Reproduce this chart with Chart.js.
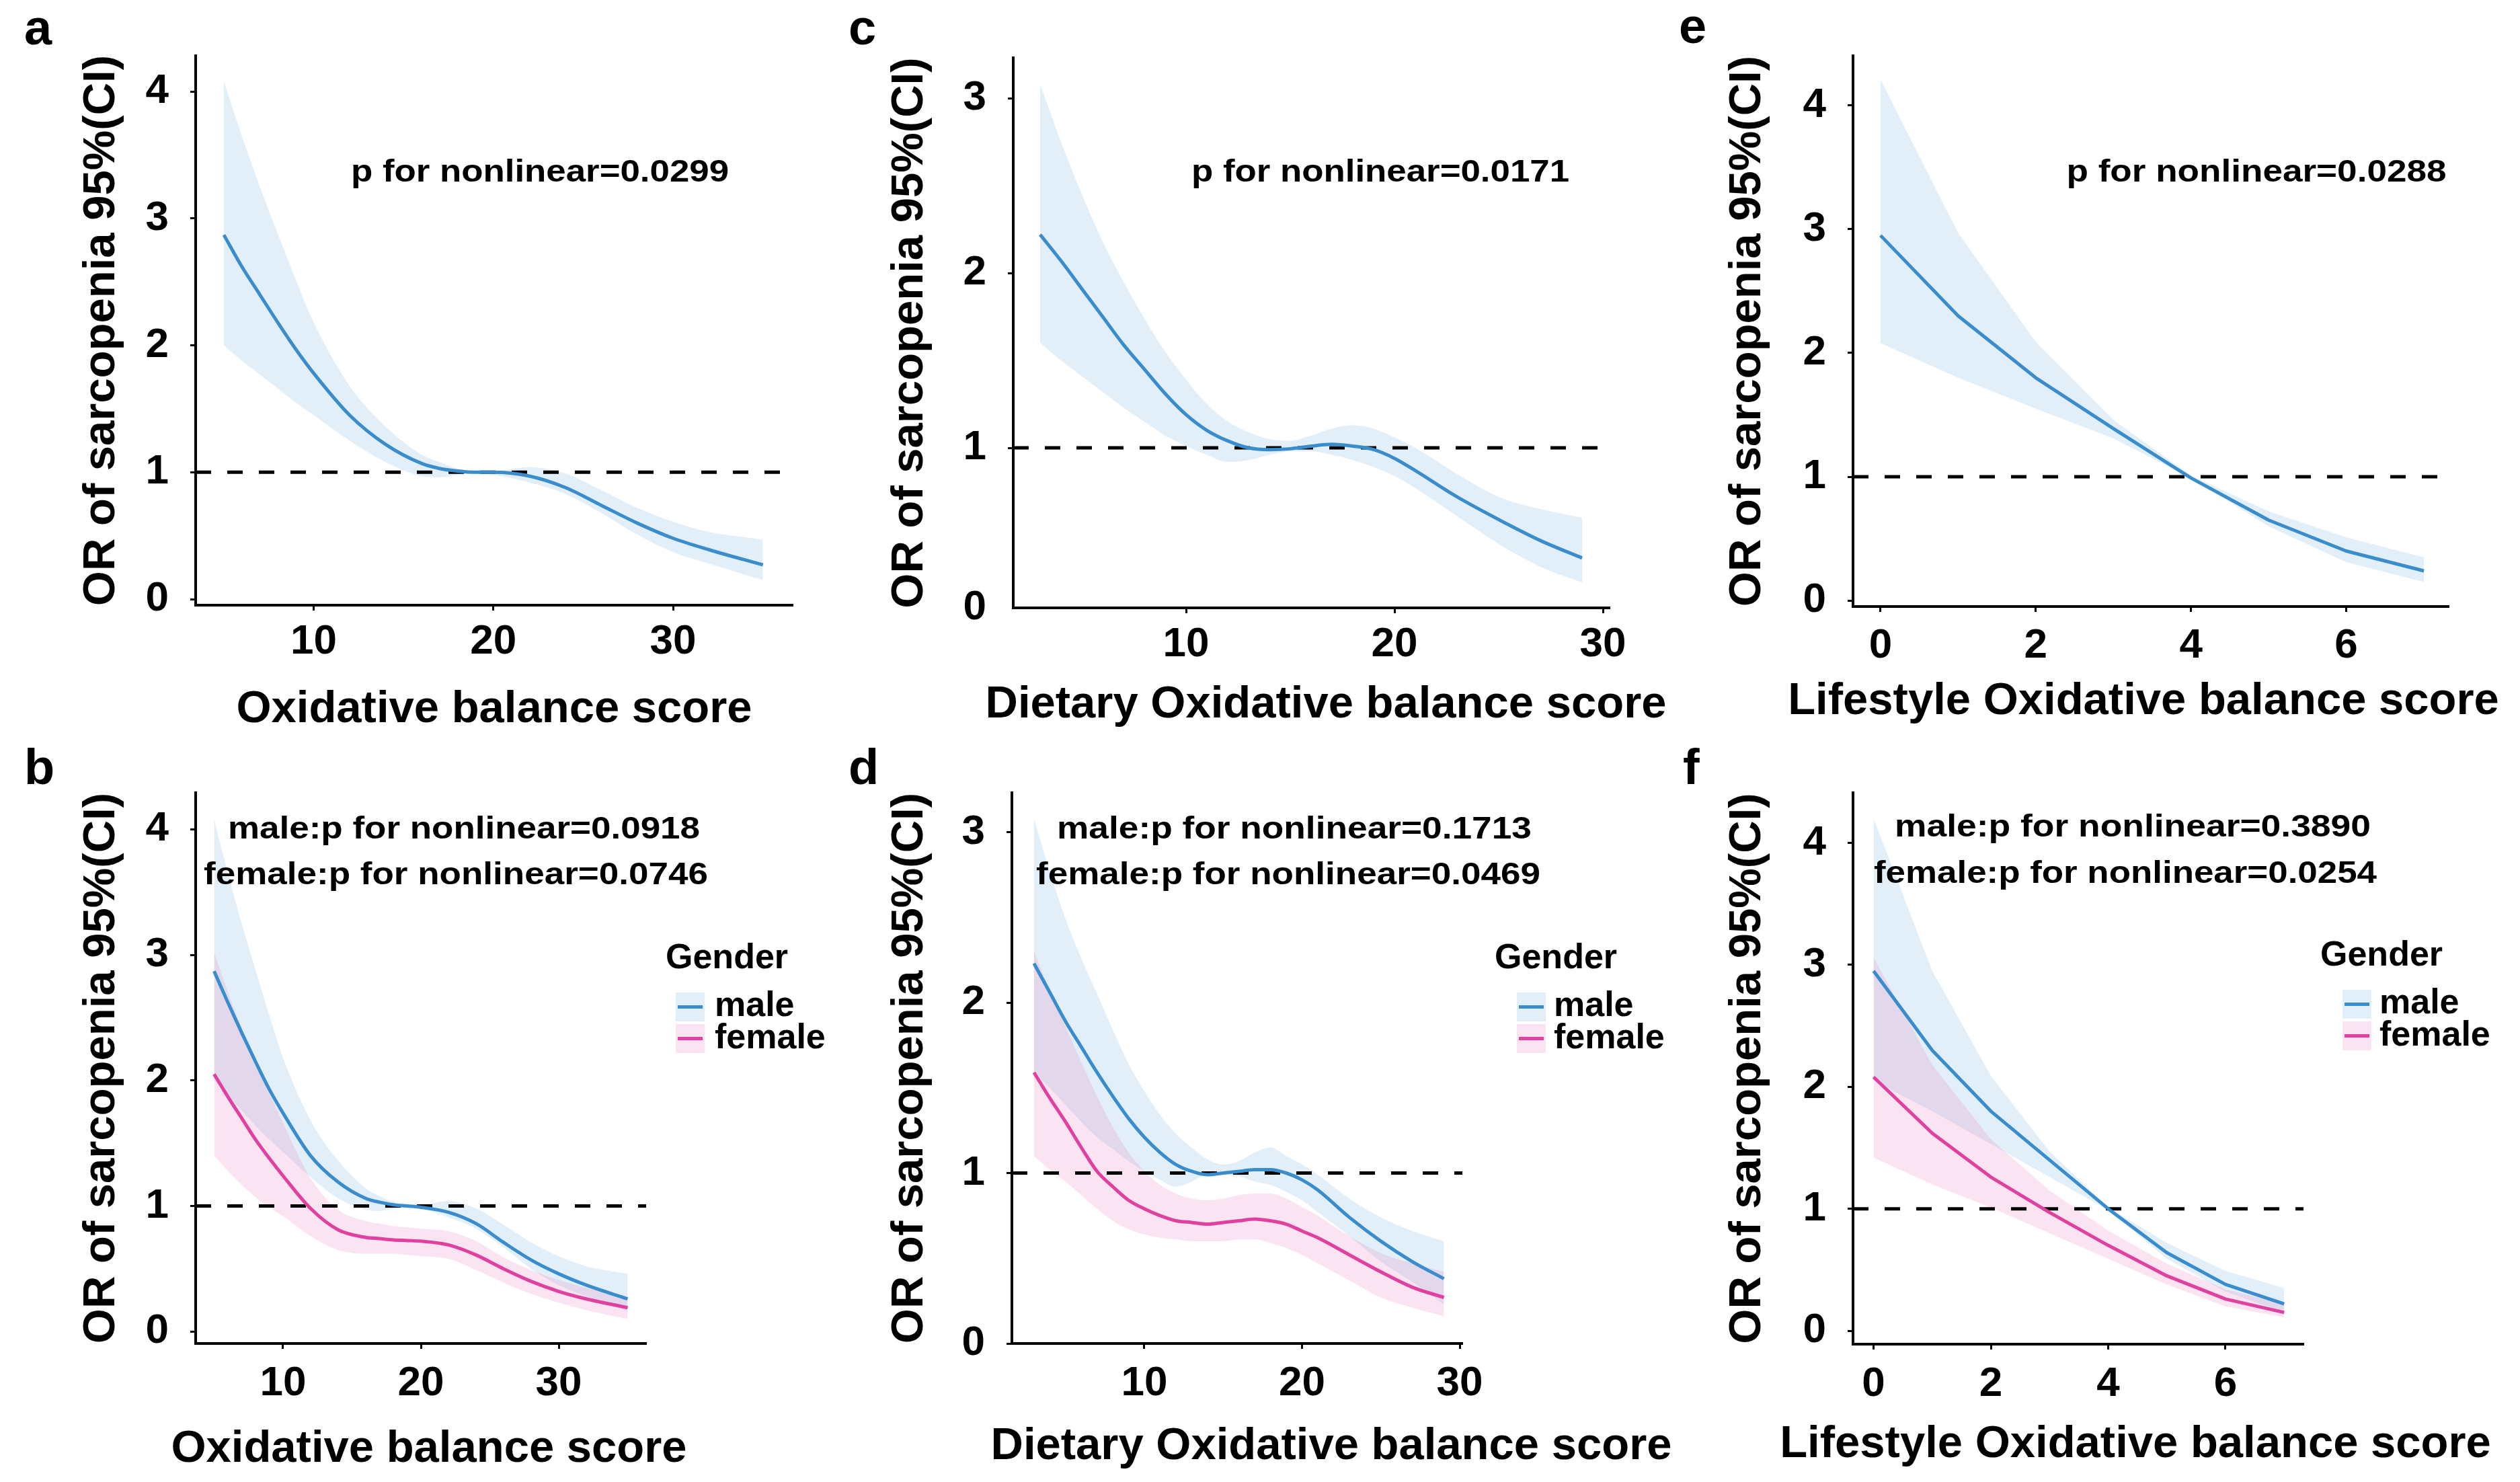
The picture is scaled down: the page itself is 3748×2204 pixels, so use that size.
<!DOCTYPE html>
<html><head><meta charset="utf-8">
<script src="https://cdn.jsdelivr.net/npm/chart.js@4.4.1/dist/chart.umd.min.js"></script>
<style>
html,body{margin:0;padding:0;background:#fff;}
body{width:3748px;height:2204px;position:relative;overflow:hidden;font-family:'Liberation Sans',Arial,sans-serif;}
canvas{position:absolute;}
.t{position:absolute;white-space:nowrap;color:#000;font-weight:bold;line-height:1;font-family:'Liberation Sans',Arial,sans-serif;transform-origin:50% 50%;}
.key{position:absolute;width:43px;height:43px;}
.key i{position:absolute;left:3px;top:19px;width:37px;height:5px;}
</style></head><body>
<script>
// ---------------- DATA ----------------
const xTicksScore = [10, 20, 30];
const xTicksLife = [0, 2, 4, 6];
const yTicks4 = [0, 1, 2, 3, 4];
const yTicks3 = [0, 1, 2, 3];

// panel a : overall, Oxidative balance score
const xA = [5,6,7,8,9,10,12,14,16,17,18,19,20,22,24,26,28,30,32,35];
const aMid = [2.87,2.62,2.40,2.18,1.97,1.78,1.45,1.22,1.07,1.03,1.01,1.00,1.00,0.97,0.88,0.74,0.60,0.48,0.39,0.27];
const aUp  = [4.08,3.65,3.25,2.88,2.52,2.18,1.68,1.36,1.14,1.08,1.03,1.01,1.01,1.04,0.99,0.86,0.72,0.61,0.53,0.47];
const aLo  = [2.00,1.88,1.77,1.66,1.55,1.45,1.25,1.08,0.97,0.96,0.98,0.99,0.98,0.92,0.83,0.68,0.51,0.37,0.28,0.15];

// panel b : by gender, Oxidative balance score
const xB = [5,6,7,8,9,10,12,14,16,17,18,19,20,22,24,26,28,30,32,35];
const bMaleMid = [2.87,2.62,2.38,2.15,1.93,1.74,1.40,1.19,1.06,1.03,1.01,1.00,0.99,0.95,0.86,0.71,0.57,0.46,0.37,0.26];
const bMaleUp  = [4.08,3.65,3.25,2.88,2.52,2.18,1.68,1.36,1.14,1.08,1.03,1.01,1.01,1.04,0.98,0.85,0.71,0.60,0.52,0.46];
const bMaleLo  = [2.00,1.88,1.76,1.64,1.53,1.43,1.23,1.06,0.97,0.96,0.98,0.99,0.98,0.91,0.82,0.67,0.50,0.37,0.28,0.16];
const bFemMid  = [2.05,1.87,1.70,1.53,1.38,1.24,0.98,0.81,0.75,0.74,0.73,0.725,0.72,0.69,0.61,0.50,0.40,0.32,0.26,0.19];
const bFemUp   = [3.02,2.70,2.42,2.15,1.90,1.66,1.22,0.97,0.88,0.86,0.84,0.83,0.82,0.80,0.72,0.59,0.49,0.41,0.35,0.28];
const bFemLo   = [1.40,1.28,1.17,1.07,0.99,0.92,0.76,0.65,0.62,0.62,0.62,0.61,0.60,0.58,0.49,0.39,0.30,0.23,0.17,0.10];

// panel c : overall, Dietary OBS
const xC = [3,4,5,6,7,8,9,10,11,12,13,14,15,16,17,18,19,20,21,23,25,27,29];
const cMid = [2.22,2.07,1.91,1.75,1.59,1.45,1.31,1.19,1.10,1.04,1.00,0.99,0.995,1.01,1.02,1.01,0.99,0.94,0.87,0.72,0.59,0.47,0.37];
const cUp  = [3.08,2.75,2.45,2.18,1.95,1.74,1.55,1.39,1.25,1.15,1.09,1.05,1.04,1.07,1.11,1.13,1.11,1.06,1.00,0.85,0.72,0.65,0.60];
const cLo  = [1.60,1.50,1.41,1.32,1.23,1.15,1.07,1.01,0.96,0.92,0.93,0.96,0.98,0.98,0.96,0.93,0.89,0.84,0.77,0.61,0.45,0.32,0.23];

// panel d : by gender, Dietary OBS
const xD = [3,4,5,6,7,8,9,10,11,12,13,14,15,16,17,18,19,20,21,23,25,27,29];
const dMaleMid = [2.23,2.06,1.89,1.74,1.59,1.45,1.32,1.21,1.12,1.05,1.01,0.99,1.00,1.01,1.02,1.02,1.00,0.96,0.90,0.74,0.60,0.48,0.38];
const dMaleUp  = [3.08,2.77,2.49,2.26,2.05,1.84,1.64,1.48,1.34,1.23,1.15,1.08,1.05,1.07,1.12,1.15,1.10,1.05,0.99,0.85,0.74,0.66,0.60];
const dMaleLo  = [1.59,1.50,1.40,1.30,1.21,1.14,1.07,1.01,0.96,0.92,0.95,0.99,0.99,0.98,0.95,0.93,0.89,0.84,0.77,0.63,0.48,0.36,0.23];
const dFemMid  = [1.59,1.44,1.30,1.15,1.01,0.92,0.84,0.79,0.75,0.72,0.71,0.70,0.71,0.72,0.73,0.72,0.70,0.66,0.62,0.52,0.42,0.33,0.27];
const dFemUp   = [2.30,2.07,1.86,1.65,1.45,1.27,1.12,1.01,0.93,0.88,0.85,0.84,0.85,0.87,0.88,0.88,0.85,0.80,0.75,0.63,0.53,0.47,0.42];
const dFemLo   = [1.10,1.02,0.95,0.87,0.79,0.72,0.67,0.64,0.62,0.61,0.60,0.60,0.60,0.61,0.61,0.59,0.56,0.52,0.47,0.37,0.27,0.21,0.16];

// panel e : overall, Lifestyle OBS
const xE = [0,1,2,3,4,5,6,7];
const eMid = [2.95,2.30,1.80,1.39,0.99,0.65,0.40,0.24];
const eUp  = [4.21,2.97,2.09,1.46,1.01,0.72,0.51,0.35];
const eLo  = [2.08,1.80,1.55,1.31,0.99,0.60,0.31,0.15];

// panel f : by gender, Lifestyle OBS
const xF = [0,1,2,3,4,5,6,7];
const fMaleMid = [2.95,2.30,1.80,1.40,1.00,0.64,0.38,0.22];
const fMaleUp  = [4.20,2.95,2.09,1.47,1.01,0.72,0.49,0.35];
const fMaleLo  = [2.05,1.80,1.53,1.26,0.99,0.59,0.32,0.15];
const fFemMid  = [2.08,1.62,1.26,0.97,0.70,0.45,0.26,0.15];
const fFemUp   = [3.06,2.18,1.57,1.15,0.82,0.55,0.34,0.22];
const fFemLo   = [1.42,1.20,1.01,0.80,0.59,0.38,0.20,0.11];

const refOR = 1;

// texts
const yTitle = 'OR of sarcopenia 95%(CI)';
const xTitleObs = 'Oxidative balance score';
const xTitleDiet = 'Dietary Oxidative balance score';
const xTitleLife = 'Lifestyle Oxidative balance score';
const pA = 'p for nonlinear=0.0299';
const pC = 'p for nonlinear=0.0171';
const pE = 'p for nonlinear=0.0288';
const pBm = 'male:p for nonlinear=0.0918', pBf = 'female:p for nonlinear=0.0746';
const pDm = 'male:p for nonlinear=0.1713', pDf = 'female:p for nonlinear=0.0469';
const pFm = 'male:p for nonlinear=0.3890', pFf = 'female:p for nonlinear=0.0254';
const legendTitle = 'Gender';
const legendLabels = ['male', 'female'];
const panelLetters = ['a','b','c','d','e','f'];

// ---------------- STYLE ----------------
const FONT = "'Liberation Sans', Arial, sans-serif";
const BLUE = '#3A8DCC', PINK = '#E0409F';
const BLUEF = 'rgba(58,141,204,0.14)', PINKF = 'rgba(224,64,159,0.14)';
const NONE = 'rgba(0,0,0,0)';

function pts(xs, ys){ return xs.map((x,i)=>({x:x, y:ys[i]})); }

function series(xs, mid, up, lo, color, fill, smooth, ordBand, ordLine){
  const c = {pointRadius:0, pointHoverRadius:0, tension:0,
             cubicInterpolationMode: smooth ? 'monotone' : 'default'};
  return [
    Object.assign({}, c, {data: pts(xs, lo), borderColor: NONE, borderWidth:1, fill:false, order: ordBand}),
    Object.assign({}, c, {data: pts(xs, up), borderColor: NONE, borderWidth:1, fill:'-1', backgroundColor: fill, order: ordBand}),
    Object.assign({}, c, {data: pts(xs, mid), borderColor: color, borderWidth:5, fill:false, order: ordLine,
                          borderCapStyle:'butt', borderJoinStyle:'round'})
  ];
}
function refLine(xmin, xmax){
  return {data:[{x:xmin,y:refOR},{x:xmax,y:refOR}], borderColor:'#000', borderWidth:5,
          borderDash:[23,24], pointRadius:0, fill:false, order:3, tension:0};
}

function makeChart(p){
  const YW = p.L - p.x0, PT = 60, PR = 60, XH = 200;
  const W = YW + (p.R - p.L) + PR, H = PT + (p.B - p.T) + XH;
  const cv = document.createElement('canvas');
  cv.width = W; cv.height = H;
  cv.style.left = p.x0 + 'px'; cv.style.top = (p.T - PT) + 'px';
  cv.style.width = W + 'px'; cv.style.height = H + 'px';
  document.body.appendChild(cv);
  const tickSize = 62, titleSize = 67;
  const tickFont = {family: FONT, size: tickSize, weight: 'bold'};
  const titleFont = {family: FONT, size: titleSize, weight: 'bold'};
  const tl = 8;
  new Chart(cv, {
    type: 'line',
    data: {datasets: p.datasets},
    options: {
      responsive: false, animation: false, devicePixelRatio: 1,
      events: [],
      layout: {padding: {top: PT, right: PR, left: 0, bottom: 0}},
      plugins: {legend: {display: false}, tooltip: {enabled: false}},
      scales: {
        x: {
          type: 'linear', min: p.xmin, max: p.xmax,
          afterBuildTicks: s => { s.ticks = p.xTicks.map(v => ({value: v})); },
          afterFit: s => { s.height = XH; },
          ticks: {font: tickFont, color: '#000', autoSkip: false, maxRotation: 0,
                  padding: p.xTickOff - tl - tickSize * 0.6,
                  callback: (v, i) => String(p.xTicks[i])},
          grid: {drawOnChartArea: false, drawTicks: true, tickLength: tl, tickWidth: 3, tickColor: '#000'},
          border: {display: true, color: '#000', width: 4},
          title: {display: false}
        },
        y: {
          type: 'linear', min: p.ymin, max: p.ymax,
          afterBuildTicks: s => { s.ticks = p.yTicks.map(v => ({value: Math.max(v, p.ymin)})); },
          afterFit: s => { s.width = YW; },
          ticks: {font: tickFont, color: '#000', autoSkip: false, padding: 32,
                  callback: (v, i) => String(p.yTicks[i])},
          grid: {drawOnChartArea: false, drawTicks: true, tickLength: tl, tickWidth: 3,
                 tickColor: ctx => (p.yTicks[ctx.index] < p.ymin ? NONE : '#000')},
          border: {display: true, color: '#000', width: 4},
          title: {display: true, text: yTitle, font: titleFont, color: '#000',
                  padding: {top: p.yTitleX - p.x0 - titleSize * 0.6, bottom: 0}}
        }
      }
    }
  });
  // x-axis title (real text, not compressed to the plot width)
  txt(p.xTitle, titleSize, p.xTitleCx, p.xTitleBase, true);
}

// ---------------- TEXT ANNOTATIONS ----------------
function txt(s, size, x, baseline, centerW){
  const d = document.createElement('div');
  d.className = 't'; d.textContent = s;
  d.style.fontSize = size + 'px';
  d.style.left = x + 'px';
  d.style.top = (baseline - 0.8465 * size) + 'px';
  document.body.appendChild(d);
  if (centerW === true) {
    d.style.transform = 'translateX(-50%)';
  } else if (centerW) {
    const w = d.getBoundingClientRect().width;
    d.style.transform = 'translateX(-50%) scaleX(' + (centerW / w) + ')';
  }
  return d;
}

// ---------------- PANELS ----------------
makeChart({L:291, R:1179, T:74, B:900, x0:0, xmin:3.43, xmax:36.66, ymin:-0.047, ymax:4.28,
  yTitleX:151.5, xTitleCx:735, xTitleBase:1074, xTickOff:55, xTicks:xTicksScore, yTicks:yTicks4, xTitle:xTitleObs,
  datasets: [...series(xA, aMid, aUp, aLo, BLUE, BLUEF, true, 6, 0), refLine(3.43, 36.66)]});

makeChart({L:1507, R:2394, T:77, B:904, x0:1250, xmin:1.71, xmax:30.32, ymin:0.085, ymax:3.23,
  yTitleX:1354, xTitleCx:1972, xTitleBase:1067, xTickOff:55, xTicks:xTicksScore, yTicks:yTicks3, xTitle:xTitleDiet,
  datasets: [...series(xC, cMid, cUp, cLo, BLUE, BLUEF, true, 6, 0), refLine(1.71, 30.32)]});

makeChart({L:2756, R:3642, T:74, B:902, x0:2500, xmin:-0.354, xmax:7.32, ymin:-0.048, ymax:4.40,
  yTitleX:2599.5, xTitleCx:3188, xTitleBase:1062, xTickOff:59, xTicks:xTicksLife, yTicks:yTicks4, xTitle:xTitleLife,
  datasets: [...series(xE, eMid, eUp, eLo, BLUE, BLUEF, false, 6, 0), refLine(-0.354, 7.32)]});

makeChart({L:291, R:961, T:1170, B:1998, x0:0, xmin:3.66, xmax:36.34, ymin:-0.095, ymax:4.29,
  yTitleX:151.5, xTitleCx:638, xTitleBase:2174, xTickOff:60, xTicks:xTicksScore, yTicks:yTicks4, xTitle:xTitleObs,
  datasets: [...series(xB, bMaleMid, bMaleUp, bMaleLo, BLUE, BLUEF, true, 6, 0),
             ...series(xB, bFemMid, bFemUp, bFemLo, PINK, PINKF, true, 5, 1), refLine(3.66, 36.34)]});

makeChart({L:1505, R:2175, T:1170, B:1998, x0:1250, xmin:1.6, xmax:30.17, ymin:0, ymax:3.23,
  yTitleX:1353.7, xTitleCx:1980, xTitleBase:2170, xTickOff:60, xTicks:xTicksScore, yTicks:yTicks3, xTitle:xTitleDiet,
  datasets: [...series(xD, dMaleMid, dMaleUp, dMaleLo, BLUE, BLUEF, true, 6, 0),
             ...series(xD, dFemMid, dFemUp, dFemLo, PINK, PINKF, true, 5, 1), refLine(1.6, 30.17)]});

makeChart({L:2756, R:3426, T:1170, B:1999, x0:2500, xmin:-0.35, xmax:7.33, ymin:-0.11, ymax:4.41,
  yTitleX:2599.5, xTitleCx:3176, xTitleBase:2167, xTickOff:60, xTicks:xTicksLife, yTicks:yTicks4, xTitle:xTitleLife,
  datasets: [...series(xF, fMaleMid, fMaleUp, fMaleLo, BLUE, BLUEF, false, 6, 0),
             ...series(xF, fFemMid, fFemUp, fFemLo, PINK, PINKF, false, 5, 1), refLine(-0.35, 7.33)]});

// panel letters
const letterPos = [[36,67],[36,1167],[1262,67],[1262,1167],[2497,65],[2503,1167]];
panelLetters.forEach((l,i)=>txt(l, 74, letterPos[i][0], letterPos[i][1]));

// p values
txt(pA, 46, 803, 270, 562);
txt(pC, 46, 2053, 270, 562);
txt(pE, 46, 3356, 270, 565);
txt(pBm, 46, 690, 1246.5, 702);  txt(pBf, 46, 678, 1315, 750);
txt(pDm, 46, 1925, 1246.5, 706); txt(pDf, 46, 1916, 1315, 750);
txt(pFm, 46, 3172, 1244, 708);   txt(pFf, 46, 3161, 1313, 748);

// legends
function legend(gx, kx, lx, dy){
  txt(legendTitle, 52, gx, 1440 + dy);
  const cols = [[BLUEF, BLUE], [PINKF, PINK]];
  const tops = [1476, 1523], bases = [1511, 1559];
  for (let i = 0; i < 2; i++) {
    const k = document.createElement('div');
    k.className = 'key';
    k.style.left = kx + 'px'; k.style.top = (tops[i] + dy) + 'px';
    k.style.background = cols[i][0];
    const ln = document.createElement('i');
    ln.style.background = cols[i][1];
    k.appendChild(ln);
    document.body.appendChild(k);
    txt(legendLabels[i], 52, lx, bases[i] + dy);
  }
}
legend(990, 1005, 1063, 0);
legend(2223, 2256, 2311, 0);
legend(3451, 3484, 3539, -4);
</script>
</body></html>
